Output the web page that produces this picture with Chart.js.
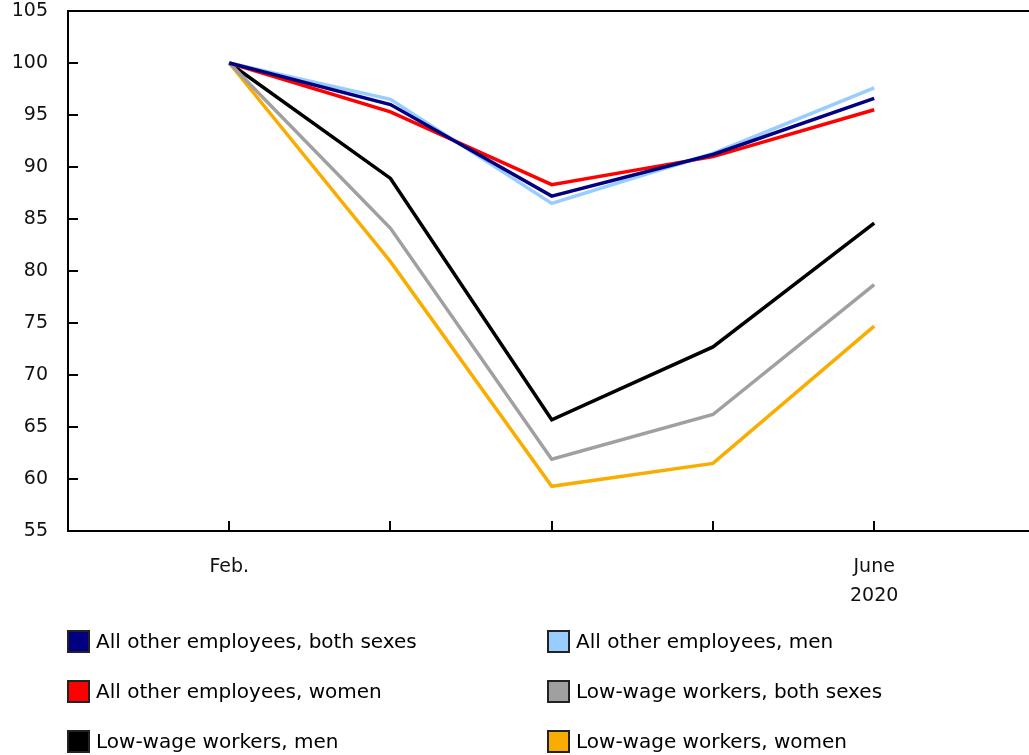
<!DOCTYPE html>
<html>
<head>
<meta charset="utf-8">
<script src="https://cdn.jsdelivr.net/npm/chart.js@4"></script>
<style>
  body { margin: 0; background: #fff; font-family: "DejaVu Sans", Verdana, sans-serif; }
  #wrap { position: relative; width: 1029px; height: 755px; }
  #legend { position: absolute; left: 0; top: 0; width: 1029px; height: 755px; pointer-events: none; }
  .item { position: absolute; display: flex; align-items: center; font-size: 20px; color: #000; white-space: nowrap; }
  .box { width: 19px; height: 19px; border: 2px solid #222; margin-right: 6px; box-sizing: content-box; }
</style>
</head>
<body>
<div id="wrap">
  <canvas id="chart" width="1029" height="612"></canvas>
  <div id="legend"></div>
</div>
<script>
// months, Feb. to June 2020 (index, Feb 2020 = 100)
const months = [0, 1, 2, 3, 4];
const monthLabels = { 0: ['Feb.'], 4: ['June', '2020'] };

const seriesNames = [
  'All other employees, both sexes',
  'All other employees, men',
  'All other employees, women',
  'Low-wage workers, both sexes',
  'Low-wage workers, men',
  'Low-wage workers, women'
];
const otherBoth = [100, 96.0, 87.2, 91.2, 96.6];
const otherMen = [100, 96.5, 86.5, 91.3, 97.6];
const otherWomen = [100, 95.3, 88.3, 91.0, 95.5];
const lowBoth = [100, 84.1, 61.9, 66.2, 78.7];
const lowMen = [100, 88.9, 65.7, 72.7, 84.6];
const lowWomen = [100, 80.9, 59.3, 61.5, 74.7];
const seriesColors = ['#000080', '#99ccff', '#ff0000', '#a0a0a0', '#000000', '#f9ad00'];
const seriesValues = [otherBoth, otherMen, otherWomen, lowBoth, lowMen, lowWomen];

const datasets = seriesValues.map((vals, i) => ({
  label: seriesNames[i],
  data: vals.map((v, j) => ({ x: months[j], y: v })),
  borderColor: seriesColors[i],
  backgroundColor: seriesColors[i],
  borderWidth: 3.5,
  pointRadius: 0,
  tension: 0
}));

// inside tick marks + top border
const frame = {
  id: 'frame',
  afterDraw(chart) {
    const { ctx, chartArea: a, scales } = chart;
    ctx.save();
    ctx.strokeStyle = '#000';
    ctx.lineWidth = 2;
    ctx.beginPath();
    ctx.moveTo(a.left, a.top);
    ctx.lineTo(a.right, a.top);
    months.forEach(m => {
      const x = Math.round(scales.x.getPixelForValue(m));
      ctx.moveTo(x, a.bottom);
      ctx.lineTo(x, a.bottom - 10);
    });
    for (let v = 55; v <= 105; v += 5) {
      const y = Math.round(scales.y.getPixelForValue(v));
      ctx.moveTo(a.left, y);
      ctx.lineTo(a.left + 10, y);
    }
    ctx.stroke();
    ctx.restore();
  }
};

new Chart(document.getElementById('chart'), {
  type: 'line',
  data: { datasets },
  options: {
    responsive: false,
    animation: false,
    layout: { padding: { top: 11, right: 0, left: 0, bottom: 0 } },
    plugins: { legend: { display: false }, tooltip: { enabled: false } },
    scales: {
      x: {
        type: 'linear',
        min: -1,
        max: 4.96,
        afterBuildTicks: s => { s.ticks = months.map(m => ({ value: m })); },
        afterFit: s => { s.height = 612 - 531; s.paddingLeft = 0; s.paddingRight = 0; },
        grid: { drawOnChartArea: false, drawTicks: false },
        border: { color: '#000', width: 2 },
        ticks: {
          padding: 21,
          color: '#111',
          font: { family: 'DejaVu Sans', size: 19, lineHeight: 1.55 },
          maxRotation: 0,
          autoSkip: false,
          callback: v => monthLabels[v] || ''
        }
      },
      y: {
        min: 55,
        max: 105,
        afterFit: s => { s.width = 68; s.paddingTop = 0; s.paddingBottom = 0; },
        grid: { drawOnChartArea: false, drawTicks: false },
        border: { color: '#000', width: 2 },
        ticks: {
          stepSize: 5,
          padding: 20,
          color: '#111',
          font: { family: 'DejaVu Sans', size: 19 }
        }
      }
    }
  },
  plugins: [frame]
});

// legend, two columns
const legend = document.getElementById('legend');
seriesNames.forEach((name, i) => {
  const el = document.createElement('div');
  el.className = 'item';
  el.style.left = (i % 2 === 0 ? 67 : 547) + 'px';
  el.style.top = (629 + Math.floor(i / 2) * 50) + 'px';
  el.innerHTML = `<span class="box" style="background:${seriesColors[i]}"></span>${name}`;
  legend.appendChild(el);
});
</script>
</body>
</html>
